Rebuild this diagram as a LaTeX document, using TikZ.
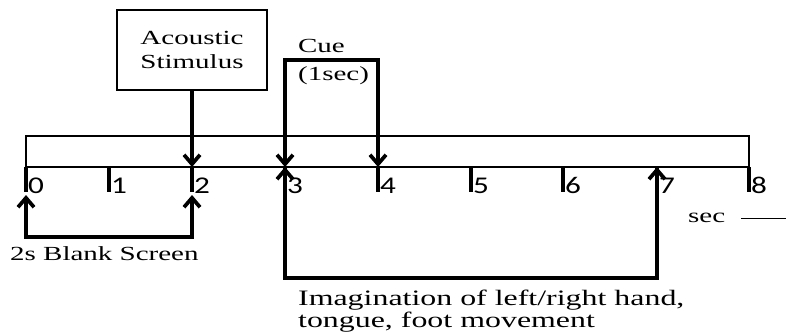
\documentclass[tikz,border=0pt]{standalone}
\usepackage{fontspec}
\setmainfont{Liberation Serif}[FakeStretch=1.45]
\newfontfamily\digfont{Carlito}[FakeStretch=1.3]
\usetikzlibrary{arrows.meta}
\tikzset{tl/.style={x=.75pt,y=-.75pt,line width=1.7pt,font=\fontsize{15}{18}\selectfont,
    >={Straight Barb[length=7pt,width=12pt]}},
  thk/.style={line width=2.8pt},
  txt/.style={inner sep=0pt,anchor=base west,align=left},
  lbl/.style={inner sep=0pt,anchor=base west,font=\digfont\fontsize{18}{20}\selectfont},
  stimbox/.style={draw,line width=1.5pt,minimum width=112pt,minimum height=60pt,align=center}}

\begin{document}
\begin{tikzpicture}[tl]
  \useasboundingbox (0,0) rectangle (786,332);
  % time axis with ticks
  \foreach \x [count=\i from 0] in {26,109,192,285,378,471,563,657,749}{
    \coordinate (t\i) at (\x,167);
    \draw[thk] (t\i) -- ++(0,25);
    \node[lbl] (l\i) at (\x+1,193) {\i};}
  \draw (t0) -- (t8);
  \draw (t0) -- ++(0,-31) -| (t8);
  % acoustic stimulus
  \node[stimbox] (stim) at (192,50) {Acoustic\\Stimulus};
  \draw[thk,->] (stim.south) -- (t2);
  % cue
  \draw[thk,<->] (t3) -- ++(0,-107) -| (t4);
  \node[txt] (cue) at (297,80) {Cue\\[3pt](1sec)};
  % blank screen
  \coordinate (b0) at (26,195); \coordinate (b2) at (192,195);
  \draw[thk,<->] (b0) -- ++(0,42) -| (b2);
  \node[txt] (blank) at (9,260) {2s Blank Screen};
  % imagination
  \draw[thk,<->] (t3) -- ++(0,111) -| (t7);
  \node[txt,font=\fontsize{16.5}{16.5}\selectfont] (imag) at (297,327)
    {Imagination of left/right hand,\\tongue, foot movement};
  % unit
  \node[txt] (sec) at (687,222) {sec};
  \coordinate (s0) at (741,218); \coordinate (s1) at (786,218);
  \draw[line width=.6pt] (s0) -- (s1);
\end{tikzpicture}
\end{document}
